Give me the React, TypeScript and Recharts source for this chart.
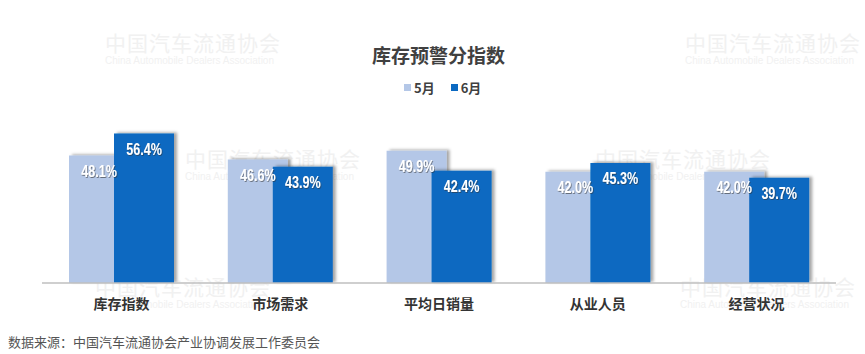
import { BarChart, Bar, XAxis, YAxis, LabelList } from 'recharts'

const categories = ['库存指数', '市场需求', '平均日销量', '从业人员', '经营状况']
const may = [48.1, 46.6, 49.9, 42.0, 42.0]
const june = [56.4, 43.9, 42.4, 45.3, 39.7]
const seriesNames = ['5月', '6月']

const COLORS = ['#b4c7e7', '#0b69c1']

const data = categories.map((name, i) => ({ name, may: may[i], june: june[i] }))

const CJK = '"Noto Sans CJK SC", "Noto Sans", sans-serif'

const watermarks = [
  { x: 105, y: 32 },
  { x: 685, y: 32 },
  { x: 185, y: 148 },
  { x: 595, y: 148 },
  { x: 95, y: 276 },
  { x: 680, y: 276 },
]

function ValueLabel(props: any) {
  const { x, y, width, value } = props
  // no condensed font here, so squeeze the text sideways
  return (
    <text
      transform={`translate(${x + width / 2}, ${y + 17}) scale(0.74, 1)`}
      x={0}
      y={0}
      textAnchor="middle"
      dominantBaseline="middle"
      fill="#ffffff"
      fontFamily='"Liberation Sans", Arial, sans-serif'
      fontWeight="bold"
      fontSize={17}
      filter="url(#txtShadow)"
    >
      {value.toFixed(1)}%
    </text>
  )
}

export default function App() {
  return (
    <div
      style={{
        position: 'absolute',
        left: 0,
        top: 0,
        width: 865,
        height: 354,
        background: '#ffffff',
        overflow: 'hidden',
      }}
    >
      {watermarks.map((w, i) => (
        <div
          key={`wm-${i}`}
          style={{ position: 'absolute', left: w.x, top: w.y, color: '#f1f1f1', lineHeight: 1 }}
        >
          <div style={{ fontFamily: CJK, fontSize: 21, letterSpacing: 1 }}>中国汽车流通协会</div>
          <div style={{ fontFamily: '"Liberation Sans", sans-serif', fontSize: 10, marginTop: 3 }}>
            China Automobile Dealers Association
          </div>
        </div>
      ))}

      <div
        style={{
          position: 'absolute',
          left: 0,
          width: 877,
          top: 41,
          textAlign: 'center',
          fontFamily: CJK,
          fontWeight: 'bold',
          fontSize: 19,
          color: '#404040',
        }}
      >
        库存预警分指数
      </div>

      <div
        style={{
          position: 'absolute',
          left: 404,
          top: 78,
          display: 'flex',
          alignItems: 'center',
          fontFamily: CJK,
          fontWeight: 'bold',
          fontSize: 13,
          color: '#404040',
        }}
      >
        {seriesNames.map((s, i) => (
          <div key={s} style={{ display: 'flex', alignItems: 'center', marginRight: 16 }}>
            <span style={{ width: 7, height: 7, background: COLORS[i], marginRight: 3 }} />
            {s}
          </div>
        ))}
      </div>

      <div style={{ position: 'absolute', left: 0, top: 0 }}>
        <BarChart
          width={865}
          height={354}
          data={data}
          margin={{ top: 124, right: 29, bottom: 41, left: 42 }}
          barSize={60}
          barGap={-15}
        >
          <defs>
            <filter id="barShadow" x="-20%" y="-20%" width="140%" height="140%">
              <feDropShadow dx={3} dy={-1} stdDeviation={1.6} floodColor="#000" floodOpacity={0.35} />
            </filter>
            <filter id="txtShadow" x="-20%" y="-30%" width="140%" height="160%">
              <feDropShadow dx={1} dy={1} stdDeviation={0.6} floodColor="#333" floodOpacity={0.6} />
            </filter>
          </defs>
          <XAxis
            dataKey="name"
            height={30}
            tickLine={false}
            axisLine={{ stroke: '#bfbfbf', strokeWidth: 1.5 }}
            tick={{ fill: '#333333', fontSize: 14, fontWeight: 'bold', fontFamily: CJK }}
            tickMargin={10}
          />
          <YAxis hide domain={[0, 60]} />
          <Bar dataKey="may" fill={COLORS[0]} isAnimationActive={false} filter="url(#barShadow)">
            <LabelList dataKey="may" content={ValueLabel} />
          </Bar>
          <Bar dataKey="june" fill={COLORS[1]} isAnimationActive={false} filter="url(#barShadow)">
            <LabelList dataKey="june" content={ValueLabel} />
          </Bar>
        </BarChart>
      </div>

      <div
        style={{
          position: 'absolute',
          left: 8,
          top: 332,
          fontFamily: CJK,
          fontSize: 13,
          color: '#555555',
        }}
      >
        数据来源：中国汽车流通协会产业协调发展工作委员会
      </div>
    </div>
  )
}
